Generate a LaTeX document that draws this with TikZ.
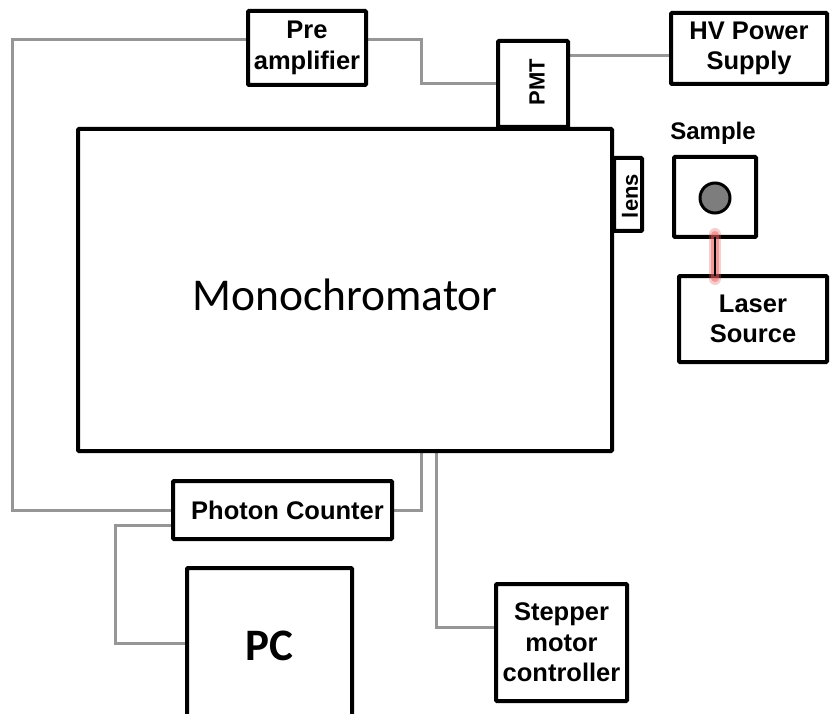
\documentclass[tikz,border=0pt]{standalone}
\usepackage{fontspec}
\setmainfont{Liberation Sans}
\newfontfamily\calibri{Carlito}
\usetikzlibrary{calc,backgrounds}
\definecolor{conngray}{RGB}{150,150,150}
\definecolor{dotgray}{RGB}{125,125,125}
\definecolor{glow}{RGB}{235,90,90}
\tikzset{
  box/.style={draw=black, line width=4pt, fill=white, rounded corners=1pt, inner sep=0pt, outer sep=0pt, align=center},
  lbl/.style={font=\fontsize{25.5}{30.5}\selectfont\bfseries},
  smalllbl/.style={font=\fontsize{22}{26}\selectfont\bfseries},
  conn/.style={draw=conngray, line width=3pt},
}
\begin{document}
\begin{tikzpicture}[x=1pt, y=-1pt]
\useasboundingbox (0,0) rectangle (830,714);
\clip (0,0) rectangle (830,714);

\node[box, minimum width=534, minimum height=322,
  label={[font=\calibri\fontsize{45.5}{50}\selectfont, yshift=-5pt]center:Monochromator}] (mono) at (345,290) {};
\node[box, lbl, minimum width=118, minimum height=74] (pre) at (307,48) {Pre\\amplifier};
\node[box, minimum width=70, minimum height=86] (pmt) at (533,84) {};
\node[smalllbl, rotate=90] (pmttext) at (537,82) {PMT};
\node[box, lbl, minimum width=156, minimum height=71] (hv) at (749,48.5) {HV Power\\Supply};
\node[box, minimum width=28, minimum height=73] (lens) at (628,194.5) {};
\node[smalllbl, rotate=90] (lenstext) at (630,196) {lens};
\node[font=\fontsize{24}{28}\selectfont\bfseries] (samplelbl) at (713,133) {Sample};
\node[box, minimum width=82, minimum height=80] (sample) at (715,197) {};
\node[draw=black, line width=3pt, fill=dotgray, circle, minimum size=30, inner sep=0pt] (dot) at (715,198) {};
\node[box, lbl, minimum width=148, minimum height=86] (laser) at (753,319) {Laser\\Source};
\node[box, lbl, minimum width=219, minimum height=58] (photon) at (282.5,510) {\hspace*{10pt}Photon Counter};
\node[box, minimum width=165, minimum height=150,
  label={[font=\calibri\fontsize{45}{50}\selectfont\bfseries, yshift=-3pt]center:PC}] (pc) at (269.5,643) {};
\node[box, lbl, minimum width=131, minimum height=117] (stepper) at (561.5,642.5) {Stepper\\motor\\controller};

% laser beam
\draw[glow, opacity=0.3, line width=12pt, line cap=round] ([yshift=3pt]sample.south) -- ([yshift=-3pt]sample.south |- laser.north);
\draw[glow, opacity=0.45, line width=8pt, line cap=round] ([yshift=2pt]sample.south) -- ([yshift=-2pt]sample.south |- laser.north);
\draw[black, line width=1.2pt] (sample.south) -- (sample.south |- laser.north);

\begin{scope}[on background layer]
\fill[white] (0,0) rectangle (830,714);
% gray connectors
\draw[conn] ([yshift=8pt]pre.west) -- ++(-236,0) |- (photon.west);
\draw[conn] ([yshift=8pt]pre.east) -- ++(55,0) |- (pmt.west);
\draw[conn] ([yshift=28pt]pmt.east) -- ([yshift=28pt]pmt.east -| hv.west);
\draw[conn] (photon.east) -| ([xshift=76pt]mono.south);
\draw[conn] ([xshift=91pt]mono.south) |- ([yshift=15.5pt]stepper.west);
\draw[conn] ([yshift=-15pt]photon.west) -- ++(-58,0) |- (pc.west);
\end{scope}
\end{tikzpicture}
\end{document}
